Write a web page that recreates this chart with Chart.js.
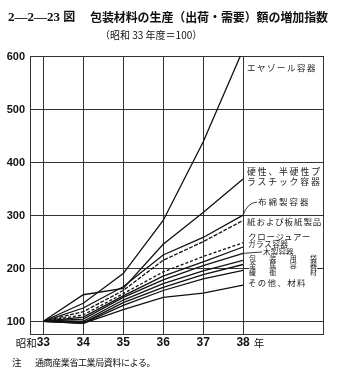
<!DOCTYPE html>
<html>
<head>
<meta charset="utf-8">
<script src="https://cdn.jsdelivr.net/npm/chart.js@4/dist/chart.umd.min.js"></script>
<style>
html,body{margin:0;padding:0;background:#fff;}
#wrap{position:relative;width:338px;height:377px;overflow:hidden;font-family:"Noto Sans CJK JP",sans-serif;color:#111;}
#c{position:absolute;left:0;top:0;}
.t{position:absolute;white-space:nowrap;line-height:1;}
.lab{position:absolute;white-space:nowrap;line-height:1;font-size:8.5px;color:#222;}
.blk{position:absolute;left:249px;top:255px;width:68px;background:#fff;font-size:7px;line-height:7px;color:#222;}
.blk div{display:flex;justify-content:space-between;height:7px;}
</style>
</head>
<body>
<div id="wrap">
<canvas id="c" width="338" height="377"></canvas>
<div class="t" style="left:8px;top:10px;font-size:13px;font-weight:bold;font-family:'Liberation Serif','Noto Sans CJK JP',serif;">2—2—23 <span style="font-family:'Noto Sans CJK JP';font-size:12px;">図</span></div>
<div class="t" style="left:90px;top:11px;font-size:12px;font-weight:bold;letter-spacing:-0.1px;">包装材料の生産（出荷・需要）額の増加指数</div>
<div class="t" style="left:100px;top:30px;font-size:10px;">（昭和 33 年度＝100）</div>

<div class="lab" style="left:247px;top:63px;letter-spacing:1.5px;">エヤゾール容器</div>
<div class="lab" style="left:247px;top:168px;letter-spacing:1.9px;font-size:8.8px;">硬性、半硬性プ</div>
<div class="lab" style="left:247px;top:178px;letter-spacing:1.9px;font-size:8.8px;">ラスチック容器</div>
<div class="lab" style="left:258px;top:197px;letter-spacing:2px;">布綿製容器</div>
<div class="lab" style="left:247px;top:217px;letter-spacing:0.9px;">紙および板紙製品</div>
<div class="lab" style="left:248px;top:232px;letter-spacing:0.7px;">クロージュアー</div>
<div class="lab" style="left:248px;top:240px;letter-spacing:0.3px;font-size:7.8px;">ガラス容器</div>
<div class="lab" style="left:263px;top:247.5px;letter-spacing:0.2px;font-size:7.5px;">木製容器</div>
<div class="blk">
  <div><span>包</span><span>装</span><span>用</span><span>袋</span></div>
  <div><span>金</span><span>属</span><span>容</span><span>器</span></div>
  <div><span>緩</span><span>衝</span><span>&#12288;</span><span>材</span></div>
</div>
<div class="lab" style="left:248px;top:278px;letter-spacing:1.3px;">その他、材料</div>

<div class="t" style="left:12px;top:358px;font-size:9.5px;">注</div>
<div class="t" style="left:35px;top:358px;font-size:9px;letter-spacing:-0.4px;">通商産業省工業局資料による。</div>
</div>

<script>
// 年次（昭和）
const years = [33, 34, 35, 36, 37, 38];
const yearPrefix = '昭和';
const yearSuffix = '年';
const yTicks = [100, 200, 300, 400, 500, 600];

// 増加指数（昭和33年度＝100）
const aerosol  = [100, 134, 190, 290, 438, 612];
const plastic  = [100, 150, 162, 245, 305, 368];
const cotton   = [100, 125, 165, 225, 258, 300];
const paper    = [100, 118, 158, 215, 250, 290];
const closure  = [100, 112, 152, 193, 222, 248];
const glass    = [100, 108, 148, 185, 212, 240];
const wood     = [100, 104, 145, 178, 205, 228];
const bags     = [100, 100, 140, 171, 195, 215];
const metal    = [100,  97, 135, 164, 188, 207];
const cushion  = [100,  96, 130, 158, 180, 196];
const others   = [100,  96, 122, 145, 153, 168];

const pts = arr => arr.map((v, i) => ({x: years[i], y: v}));
const ds = (label, arr, dash) => ({
  label, data: pts(arr), borderColor: '#111', borderWidth: 1.3,
  borderDash: dash || [], pointRadius: 0, tension: 0, fill: false
});

const datasets = [
  ds('エヤゾール容器', aerosol),
  ds('硬性、半硬性プラスチック容器', plastic),
  ds('布綿製容器', cotton),
  ds('紙および板紙製品', paper, [4, 1.5]),
  ds('クロージュアー', closure, [3, 2]),
  ds('ガラス容器', glass),
  ds('木製容器', wood),
  ds('包装用袋', bags),
  ds('金属容器', metal),
  ds('緩衝材', cushion),
  ds('その他、材料', others)
];

// 軸目盛の文字と引出線
const axisText = {
  id: 'axisText',
  afterDraw(chart) {
    const {ctx, scales: {x, y}} = chart;
    ctx.save();
    ctx.fillStyle = '#111';
    ctx.font = 'bold 11px "Liberation Sans Narrow","Liberation Sans",sans-serif';
    ctx.textAlign = 'right';
    ctx.textBaseline = 'middle';
    yTicks.forEach(v => ctx.fillText(String(v), 25, y.getPixelForValue(v) + 1));

    const ly = 343;
    ctx.font = 'bold 12px "Liberation Sans Narrow","Liberation Sans",sans-serif';
    years.forEach((yr, i) => {
      const px = x.getPixelForValue(yr);
      ctx.textAlign = 'center';
      ctx.fillText(String(yr), px, ly);
      const w = ctx.measureText(String(yr)).width;
      if (i === 0) {
        ctx.save();
        ctx.font = '10.5px "Noto Sans CJK JP",sans-serif';
        ctx.textAlign = 'right';
        ctx.fillText(yearPrefix, px - w / 2, ly);
        ctx.restore();
      }
      if (i === years.length - 1) {
        ctx.save();
        ctx.font = '10.5px "Noto Sans CJK JP",sans-serif';
        ctx.textAlign = 'left';
        ctx.fillText(yearSuffix, px + w / 2 + 4, ly);
        ctx.restore();
      }
    });

    // 引出線
    ctx.strokeStyle = '#222';
    ctx.lineWidth = 0.9;
    const ex = x.getPixelForValue(38);
    const cy = y.getPixelForValue(cotton[5]);
    ctx.beginPath();
    ctx.moveTo(257, 202);
    ctx.quadraticCurveTo(247, 203, ex, cy);
    ctx.stroke();
    const wy = y.getPixelForValue(wood[5]);
    ctx.beginPath();
    ctx.moveTo(ex, wy);
    ctx.lineTo(262, 252);
    ctx.stroke();
    ctx.restore();
  }
};

new Chart(document.getElementById('c'), {
  type: 'line',
  data: {datasets},
  options: {
    responsive: false,
    animation: false,
    devicePixelRatio: 1,
    layout: {padding: {left: 30, top: 56, right: 15, bottom: 43}},
    plugins: {legend: {display: false}, tooltip: {enabled: false}, title: {display: false}},
    scales: {
      x: {
        type: 'linear', min: 32.667, max: 40,
        afterBuildTicks: s => { s.ticks = years.concat([40]).map(v => ({value: v})); },
        ticks: {display: false},
        grid: {color: '#333', lineWidth: 1, drawTicks: false},
        border: {display: true, color: '#333', width: 1}
      },
      y: {
        type: 'linear', min: 76, max: 600,
        afterBuildTicks: s => { s.ticks = yTicks.map(v => ({value: v})); },
        ticks: {display: false},
        grid: {color: '#333', lineWidth: 1, drawTicks: false},
        border: {display: true, color: '#333', width: 1}
      }
    }
  },
  plugins: [axisText]
});
</script>
</body>
</html>
